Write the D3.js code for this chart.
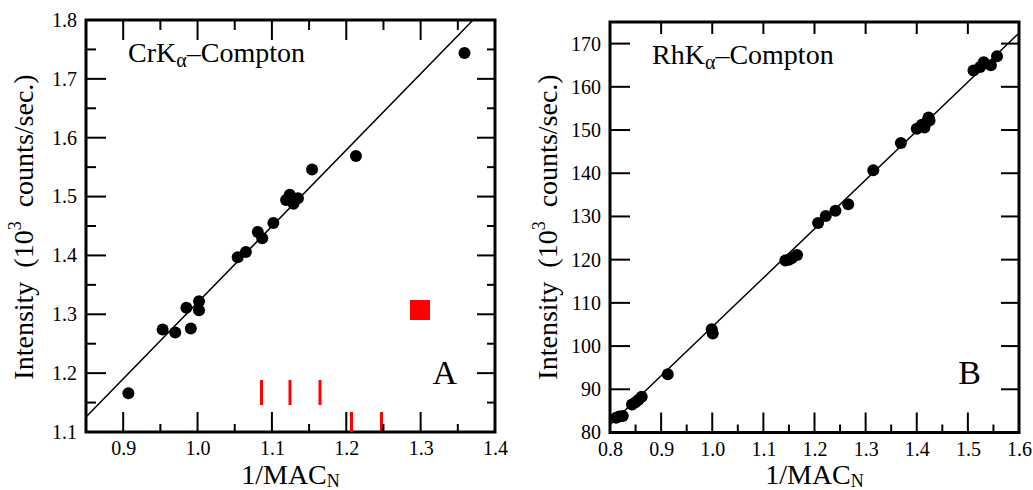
<!DOCTYPE html>
<html>
<head>
<meta charset="utf-8">
<style>
  body{margin:0;background:#fff}
  text{font-family:"Liberation Serif","Times New Roman",serif;fill:#000}
</style>
</head>
<body>
<div id="chart"></div>
<script src="https://cdn.jsdelivr.net/npm/d3@7/dist/d3.min.js"></script>
<script>
// ---- panel A : CrKa-Compton ----
var crX = [0.907, 0.953, 0.970, 0.985, 0.991, 1.002, 1.002, 1.054, 1.065, 1.081,
           1.087, 1.102, 1.119, 1.124, 1.129, 1.135, 1.154, 1.213, 1.359];
var crY = [1.166, 1.274, 1.269, 1.311, 1.276, 1.322, 1.307, 1.397, 1.406, 1.440,
           1.429, 1.455, 1.494, 1.503, 1.488, 1.497, 1.546, 1.569, 1.744];
var crFit = [1.2957, 0.0242];   // slope, intercept
var crXMajor = [0.9, 1.0, 1.1, 1.2, 1.3, 1.4];
var crXMinor = [0.95, 1.05, 1.15, 1.25, 1.35];
var crYMajor = [1.1, 1.2, 1.3, 1.4, 1.5, 1.6, 1.7, 1.8];
var crYMinor = [1.15, 1.25, 1.35, 1.45, 1.55, 1.65, 1.75];

// ---- panel B : RhKa-Compton ----
var rhX = [0.812, 0.818, 0.825, 0.843, 0.850, 0.856, 0.862, 0.913, 0.999, 1.001,
           1.143, 1.150, 1.156, 1.166, 1.207, 1.222, 1.241, 1.266, 1.315, 1.369,
           1.400, 1.410, 1.415, 1.420, 1.423, 1.425, 1.511, 1.524, 1.531, 1.545, 1.557];
var rhY = [83.4, 83.7, 83.8, 86.5, 87.0, 87.6, 88.3, 93.5, 103.9, 102.9,
           119.8, 120.0, 120.4, 121.1, 128.5, 130.1, 131.3, 132.8, 140.7, 147.0,
           150.3, 151.2, 150.6, 151.9, 152.9, 152.2, 163.8, 164.6, 165.7, 165.0, 167.1];
var rhFit = [113.3, -8.84];
var rhXMajor = [0.8, 0.9, 1.0, 1.1, 1.2, 1.3, 1.4, 1.5, 1.6];
var rhXMinor = [0.85, 0.95, 1.05, 1.15, 1.25, 1.35, 1.45, 1.55];
var rhXTop = [0.9, 1.0, 1.1, 1.2, 1.3, 1.4, 1.5];
var rhYMajor = [80, 90, 100, 110, 120, 130, 140, 150, 160, 170];

var svg = d3.select('#chart').append('svg')
    .attr('width', 1033).attr('height', 490);

// probe drawn first
svg.append('rect').attr('x', 380).attr('y', 412).attr('width', 3).attr('height', 20).attr('fill', 'red');

function panel(p){
    var g = svg.append('g');
    var x = d3.scaleLinear().domain(p.xDom).range([p.left, p.right]);
    var y = d3.scaleLinear().domain(p.yDom).range([p.bottom, p.top]);

    // tick labels from d3 axes
    function lab(axis, tx, ty, vals, fmt, pad){
        var a = g.append('g').attr('transform', 'translate(' + tx + ',' + ty + ')')
            .call(axis.tickValues(vals).tickSize(0).tickFormat(d3.format(fmt)).tickPadding(pad));
        a.select('.domain').remove();
        a.attr('font-size', 20);
    }
    lab(d3.axisBottom(x), 0, p.bottom, p.xMajor, p.xFmt, 9);
    lab(d3.axisLeft(y), p.left, 0, p.yMajor, p.yFmt, 9);

    // fit line, ends cut at the frame
    var m = p.fit[0], b = p.fit[1];
    var xa = p.xDom[0], xb = p.xDom[1];
    if (m * xa + b < p.yDom[0]) xa = (p.yDom[0] - b) / m;
    if (m * xb + b > p.yDom[1]) xb = (p.yDom[1] - b) / m;
    g.append('path').datum([[xa, m * xa + b], [xb, m * xb + b]])
        .attr('d', d3.line().x(function(d){ return x(d[0]); }).y(function(d){ return y(d[1]); }))
        .attr('fill', 'none').attr('stroke', '#000').attr('stroke-width', 1.5);

    g.selectAll('circle.pt').data(p.xs).enter().append('circle')
        .attr('cx', function(d){ return x(d); })
        .attr('cy', function(d, i){ return y(p.ys[i]); })
        .attr('r', 6).attr('fill', '#000');

    g.append('rect').attr('x', p.left).attr('y', p.top)
        .attr('width', p.right - p.left).attr('height', p.bottom - p.top)
        .attr('fill', 'none').attr('stroke', '#000').attr('stroke-width', 3);

    // inward tick marks on every side
    function xTicks(vals, y0, len){
        g.append('g').selectAll('rect').data(vals).enter().append('rect')
            .attr('x', function(d){ return x(d) - 1; }).attr('width', 2)
            .attr('y', Math.min(y0, y0 + len)).attr('height', Math.abs(len))
            .attr('fill', '#000');
    }
    function yTicks(vals, x0, len){
        g.append('g').selectAll('rect').data(vals).enter().append('rect')
            .attr('y', function(d){ return y(d) - 1; }).attr('height', 2)
            .attr('x', Math.min(x0, x0 + len)).attr('width', Math.abs(len))
            .attr('fill', '#000');
    }
    xTicks(p.xMajor, p.bottom, -20);
    xTicks(p.xMinor, p.bottom, -8);
    xTicks(p.xTop, p.top, p.topLen);
    if (p.xTopMinor) xTicks(p.xTopMinor, p.top, 10);
    yTicks(p.yMajor, p.left, 20);
    yTicks(p.yMajor, p.right, -18);
    if (p.yMinor){
        yTicks(p.yMinor, p.left, 10);
        yTicks(p.yMinor, p.right, -8);
    }

    // annotation
    var t = g.append('text').attr('x', p.left + 42).attr('y', p.top + 42).attr('font-size', 28);
    t.append('tspan').text(p.elem + 'K');
    t.append('tspan').attr('font-size', 20).attr('dy', 5).text('\u03b1');
    t.append('tspan').attr('dy', -5).text('\u2013Compton');

    g.append('text').attr('x', p.right - 38).attr('y', 384)
        .attr('text-anchor', 'end').attr('font-size', 34).text(p.tag);

    // axis titles
    var xt = g.append('text').attr('x', (p.left + p.right) / 2).attr('y', 484)
        .attr('text-anchor', 'middle').attr('font-size', 28);
    xt.append('tspan').text('1/MAC');
    xt.append('tspan').attr('font-size', 18).attr('dy', 3).text('N');

    var yt = g.append('text').attr('transform', 'translate(' + (p.left - 53) + ',227) rotate(-90)')
        .attr('text-anchor', 'middle').attr('font-size', 28).style('white-space', 'pre');
    yt.append('tspan').text('Intensity  (10');
    yt.append('tspan').attr('font-size', 18).attr('dy', -12).text('3');
    yt.append('tspan').attr('dy', 12).text('  counts/sec.)');
}

panel({left: 86, right: 495, top: 20, bottom: 432,
       xDom: [0.85, 1.4], yDom: [1.1, 1.8], xFmt: '.1f', yFmt: '.1f',
       xMajor: crXMajor, xMinor: crXMinor, xTop: crXMajor, xTopMinor: crXMinor, topLen: 20,
       yMajor: crYMajor, yMinor: crYMinor,
       fit: crFit, xs: crX, ys: crY, elem: 'Cr', tag: 'A'});

panel({left: 610, right: 1019, top: 22, bottom: 432.5,
       xDom: [0.8, 1.6], yDom: [80, 175], xFmt: '.1f', yFmt: 'd',
       xMajor: rhXMajor, xMinor: rhXMinor, xTop: rhXTop, topLen: 12,
       yMajor: rhYMajor,
       fit: rhFit, xs: rhX, ys: rhY, elem: 'Rh', tag: 'B'});

// probes drawn last
svg.append('rect').attr('x', 260).attr('y', 380).attr('width', 3).attr('height', 25).attr('fill', 'red');
svg.append('path').attr('d', 'M290,380V405').attr('stroke', 'red').attr('stroke-width', 3);
svg.append('line').attr('x1', 320).attr('x2', 320).attr('y1', 380).attr('y2', 405).attr('stroke', 'red').attr('stroke-width', 3);
svg.append('rect').attr('x', 350).attr('y', 412).attr('width', 3).attr('height', 20).attr('fill', 'red');
svg.append('rect').attr('x', 410).attr('y', 300).attr('width', 20).attr('height', 20).attr('fill', 'red');
</script>
</body>
</html>
